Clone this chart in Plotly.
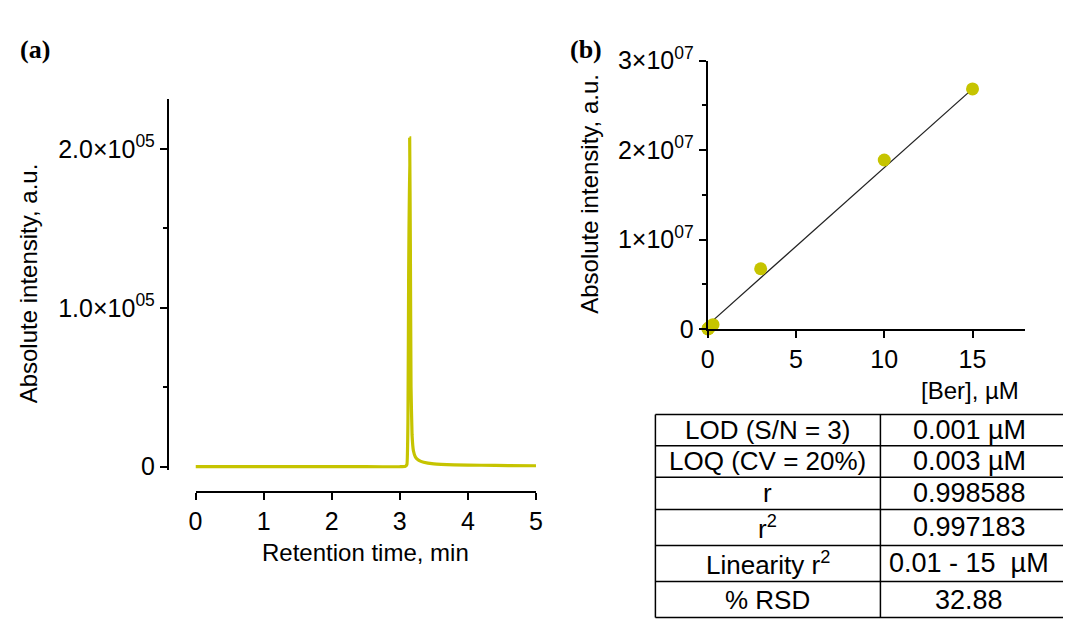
import plotly.graph_objects as go

# ---------------- data ----------------
# (a) chromatogram: retention time (min) vs absolute intensity (a.u.)
retention_time = [0.0, 0.5, 1.0, 1.5, 2.0, 2.5, 3.0, 3.08, 3.105, 3.12, 3.13, 3.145,
                  3.155, 3.165, 3.18, 3.2, 3.23, 3.28, 3.35, 3.5, 3.8, 4.2, 4.6, 5.0]
intensity = [0, 0, 0, 0, 0, 0, 0, 200, 1500, 30000, 120000, 207000,
             140000, 50000, 20000, 10000, 6000, 4000, 2800, 1800, 1200, 900, 700, 600]

# (b) calibration: berberine concentration (µM) vs absolute intensity (a.u.)
concentration = [0.01, 0.03, 0.1, 0.3, 3, 10, 15]
signal = [2.0e4, 6.0e4, 2.0e5, 5.0e5, 6.75e6, 1.89e7, 2.685e7]
fit_conc = [0, 15]
fit_signal = [4.5e5, 2.685e7]

# (a) tick labels
a_x_ticks = [0, 1, 2, 3, 4, 5]
a_y_ticks = [0, 1.0e5, 2.0e5]
a_y_labels = ["0", "1.0×10<sup>05</sup>", "2.0×10<sup>05</sup>"]
a_y_minor = [0.5e5, 1.5e5]

# (b) tick labels
b_x_ticks = [0, 5, 10, 15]
b_y_ticks = [0, 1e7, 2e7, 3e7]
b_y_labels = ["0", "1×10<sup>07</sup>", "2×10<sup>07</sup>", "3×10<sup>07</sup>"]
b_y_minor = [0.5e7, 1.5e7, 2.5e7]

# figures-of-merit table
table_params = ["LOD (S/N = 3)", "LOQ (CV = 20%)", "r", "r<sup>2</sup>",
                "Linearity r<sup>2</sup>", "% RSD"]
table_values = ["0.001 µM", "0.003 µM", "0.998588", "0.997183",
                "0.01 - 15  µM", "32.88"]

# ---------------- styling ----------------
W, H = 1070, 623
YELLOW = "#c6c400"
FONT = "Liberation Sans, Arial, sans-serif"
SERIF = "Liberation Serif, Times New Roman, serif"


def fx(px):
    return px / W


def fy(px):
    return 1 - px / H


fig = go.Figure()

fig.add_trace(go.Scatter(
    x=retention_time, y=intensity, mode="lines",
    line=dict(color=YELLOW, width=3.2, shape="spline", smoothing=0.3),
    xaxis="x", yaxis="y", showlegend=False, hoverinfo="skip"))

fig.add_trace(go.Scatter(
    x=fit_conc, y=fit_signal, mode="lines",
    line=dict(color="#222222", width=1.3),
    xaxis="x2", yaxis="y2", showlegend=False, hoverinfo="skip"))

fig.add_trace(go.Scatter(
    x=concentration, y=signal, mode="markers",
    marker=dict(color=YELLOW, size=13, line=dict(width=0)),
    cliponaxis=False, xaxis="x2", yaxis="y2", showlegend=False))

axis_common = dict(
    showgrid=False, zeroline=False, showline=True, linecolor="black",
    linewidth=2, ticks="outside", ticklen=7, tickwidth=2, tickcolor="black",
    tickfont=dict(family=FONT, size=25, color="black"), fixedrange=True)

# pixel geometry for panel (a)
a_zero_px, a_2e5_px, a_top_px, a_bot_px = 473, 138, 85, 476
a_scale = (a_zero_px - a_2e5_px) / 2.0e5
a_range = [-(a_bot_px - a_zero_px) / a_scale, (a_zero_px - a_top_px) / a_scale]

fig.update_layout(
    width=W, height=H, margin=dict(l=0, r=0, t=0, b=0),
    paper_bgcolor="white", plot_bgcolor="white",
    font=dict(family=FONT, color="black"),
    xaxis=dict(axis_common, domain=[fx(191), fx(536)], range=[0, 5],
               anchor="free", position=fy(500),
               tickmode="array", tickvals=a_x_ticks),
    yaxis=dict(axis_common, domain=[fy(a_bot_px), fy(a_top_px)], range=a_range,
               anchor="free", position=fx(163),
               tickmode="array", tickvals=a_y_ticks, ticktext=a_y_labels,
               minor=dict(tickmode="array", tickvals=a_y_minor, ticks="outside",
                          ticklen=4, tickwidth=2, tickcolor="black")),
    xaxis2=dict(axis_common, domain=[fx(710), fx(1032)], range=[0, 18],
                anchor="y2", tickmode="array", tickvals=b_x_ticks),
    yaxis2=dict(axis_common, domain=[fy(328), fy(45)], range=[0, 3e7],
                anchor="x2", tickmode="array", tickvals=b_y_ticks,
                ticktext=b_y_labels,
                minor=dict(tickmode="array", tickvals=b_y_minor, ticks="outside",
                           ticklen=4, tickwidth=2, tickcolor="black")),
)

annotations = [
    dict(text="<b>(a)</b>", x=fx(28), y=fy(33), font=dict(family=SERIF, size=26)),
    dict(text="<b>(b)</b>", x=fx(587), y=fy(33), font=dict(family=SERIF, size=26)),
    dict(text="Absolute intensity, a.u.", x=fx(22), y=fy(280), textangle=-90,
         font=dict(family=FONT, size=24)),
    dict(text="Retention time, min", x=fx(363), y=fy(563),
         font=dict(family=FONT, size=24)),
    dict(text="Absolute intensity, a.u.", x=fx(590), y=fy(185), textangle=-90,
         font=dict(family=FONT, size=24)),
    dict(text="[Ber], µM", x=fx(976), y=fy(393),
         font=dict(family=FONT, size=24)),
]

# table grid
row_lines = [418, 451, 484, 518, 556, 594, 632]
col_left, col_mid, col_right = 657, 885, 1070
shapes = []
for yl in row_lines:
    shapes.append(dict(type="line", xref="paper", yref="paper",
                       x0=fx(col_left), x1=fx(col_right), y0=fy(yl), y1=fy(yl),
                       line=dict(color="black", width=1.5)))
for xl in (col_left, col_mid):
    shapes.append(dict(type="line", xref="paper", yref="paper",
                       x0=fx(xl), x1=fx(xl), y0=fy(row_lines[0]), y1=fy(row_lines[-1]),
                       line=dict(color="black", width=1.5)))

for i, (p, v) in enumerate(zip(table_params, table_values)):
    yc = (row_lines[i] + row_lines[i + 1]) / 2
    annotations.append(dict(text=p, x=fx((col_left + col_mid) / 2), y=fy(yc),
                            font=dict(family=FONT, size=26)))
    annotations.append(dict(text=v, x=fx(975), y=fy(yc),
                            font=dict(family=FONT, size=27)))

for a in annotations:
    a.update(xref="paper", yref="paper", showarrow=False,
             xanchor="center", yanchor="middle")

fig.update_layout(annotations=annotations, shapes=shapes)

fig.write_html("out.html")
